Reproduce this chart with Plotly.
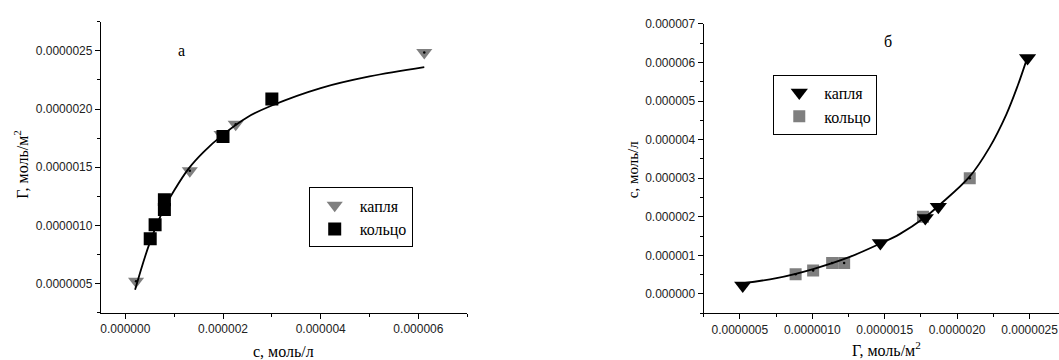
import plotly.graph_objects as go

# Measured adsorption data: concentration c (моль/л) and surface excess Γ (моль/м²)
drop_c = [0.22e-6, 1.32e-6, 1.97e-6, 2.26e-6, 6.12e-6]
drop_gamma = [0.52e-6, 1.47e-6, 1.78e-6, 1.87e-6, 2.486e-6]

ring_c = [0.51e-6, 0.61e-6, 0.80e-6, 0.80e-6, 2.00e-6, 3.00e-6]
ring_gamma = [0.885e-6, 1.006e-6, 1.137e-6, 1.22e-6, 1.764e-6, 2.087e-6]

# Fitted isotherm Γ(c) for panel а
fit_a_c = [0.20e-6, 0.50e-6, 0.80e-6, 1.0e-6, 1.3e-6, 1.6e-6, 2.0e-6, 2.5e-6,
           3.0e-6, 4.0e-6, 5.0e-6, 6.12e-6]
fit_a_gamma = [0.447e-6, 0.85e-6, 1.15e-6, 1.30e-6, 1.49e-6, 1.63e-6, 1.78e-6,
               1.93e-6, 2.03e-6, 2.18e-6, 2.28e-6, 2.36e-6]

# Fitted curve c(Γ) for panel б
fit_b_gamma = [0.523e-6, 0.753e-6, 1.006e-6, 1.259e-6, 1.466e-6, 1.603e-6,
               1.776e-6, 1.879e-6, 2.086e-6, 2.224e-6, 2.339e-6, 2.419e-6, 2.482e-6]
fit_b_c = [0.28e-6, 0.41e-6, 0.646e-6, 0.96e-6, 1.30e-6, 1.55e-6,
           1.98e-6, 2.31e-6, 3.04e-6, 3.80e-6, 4.65e-6, 5.41e-6, 6.10e-6]

GRAY = "#7f7f7f"
SERIF = "'Liberation Serif', 'Times New Roman', serif"
SANS = "'Liberation Sans', Arial, sans-serif"

fig = go.Figure()

# ---- panel а: Γ vs c ----
fig.add_trace(go.Scatter(x=drop_c, y=drop_gamma, mode="markers", name="капля",
                         marker=dict(symbol="triangle-down", size=14, color=GRAY, line=dict(width=0)),
                         xaxis="x", yaxis="y", legend="legend", legendrank=1))
fig.add_trace(go.Scatter(x=fit_a_c, y=fit_a_gamma, mode="lines", showlegend=False,
                         line=dict(color="black", width=1.8, shape="spline"),
                         xaxis="x", yaxis="y"))
fig.add_trace(go.Scatter(x=drop_c, y=drop_gamma, mode="markers", showlegend=False,
                         marker=dict(symbol="circle", size=2.5, color="black"),
                         xaxis="x", yaxis="y"))
fig.add_trace(go.Scatter(x=ring_c, y=ring_gamma, mode="markers", name="кольцо",
                         marker=dict(symbol="square", size=13, color="black", line=dict(width=0)),
                         xaxis="x", yaxis="y", legend="legend", legendrank=2))

# ---- panel б: c vs Γ ----
fig.add_trace(go.Scatter(x=ring_gamma, y=ring_c, mode="markers", name="кольцо",
                         marker=dict(symbol="square", size=12, color=GRAY, line=dict(width=0)),
                         xaxis="x2", yaxis="y2", legend="legend2", legendrank=2))
fig.add_trace(go.Scatter(x=fit_b_gamma, y=fit_b_c, mode="lines", showlegend=False,
                         line=dict(color="black", width=1.8, shape="spline"),
                         xaxis="x2", yaxis="y2"))
fig.add_trace(go.Scatter(x=ring_gamma, y=ring_c, mode="markers", showlegend=False,
                         marker=dict(symbol="circle", size=2.5, color="black"),
                         xaxis="x2", yaxis="y2"))
fig.add_trace(go.Scatter(x=drop_gamma, y=drop_c, mode="markers", name="капля",
                         marker=dict(symbol="triangle-down", size=15, color="black", line=dict(width=0)),
                         xaxis="x2", yaxis="y2", legend="legend2", legendrank=1))

axis_common = dict(showgrid=False, zeroline=False, showline=True, linecolor="black",
                   linewidth=1, ticks="outside", ticklen=5, tickcolor="black",
                   tickfont=dict(family=SANS, size=12, color="#222"))

# text positions in pixels of the 1059x360 page: (text, x, y, angle, size)
W, H = 1059, 360
labels = [
    ("а", 181, 44, 0, 16),
    ("б", 888, 35, 0, 16),
    ("с, моль/л", 283, 351, 0, 16),
    ("Г, моль/м<sup>2</sup>", 20, 160, -90, 16),
    ("с, моль/л", 632, 166, -90, 15),
    ("Г, моль/м<sup>2</sup>", 886, 349, 0, 16),
]
annotations = [
    dict(text=t, x=x / W, y=1 - y / H, xref="paper", yref="paper",
         xanchor="center", yanchor="middle", showarrow=False, textangle=a,
         font=dict(family=SERIF, size=s, color="black"))
    for t, x, y, a, s in labels
]

legend_style = dict(xanchor="left", yanchor="top", bordercolor="black", borderwidth=1,
                    bgcolor="white", font=dict(family=SERIF, size=16, color="black"),
                    itemsizing="trace", itemwidth=40, tracegroupgap=0)

fig.update_layout(
    width=W, height=H,
    margin=dict(l=0, r=0, t=0, b=0),
    paper_bgcolor="white", plot_bgcolor="white",
    xaxis=dict(domain=[0.0944, 0.4407], range=[-0.5e-6, 7e-6], tick0=0, dtick=2e-6,
               tickformat=".6f", anchor="y",
               minor=dict(dtick=1e-6, ticklen=3, ticks="outside", tickcolor="black"),
               **axis_common),
    yaxis=dict(domain=[0.134, 0.9583], range=[0.25e-6, 2.75e-6], tick0=0, dtick=0.5e-6,
               tickformat=".7f", anchor="x",
               minor=dict(dtick=0.25e-6, ticklen=3, ticks="outside", tickcolor="black"),
               **axis_common),
    xaxis2=dict(domain=[0.6641, 1.0], range=[0.25e-6, 2.703e-6], tick0=0, dtick=0.5e-6,
                tickformat=".7f", anchor="y2",
                minor=dict(dtick=0.25e-6, ticklen=3, ticks="outside", tickcolor="black"),
                **axis_common),
    yaxis2=dict(domain=[0.1325, 0.952], range=[-0.5e-6, 7e-6], tick0=0, dtick=1e-6,
                tickformat=".6f", anchor="x2",
                minor=dict(dtick=0.5e-6, ticklen=3, ticks="outside", tickcolor="black"),
                **axis_common),
    legend=dict(x=308 / W, y=1 - 184 / H, **legend_style),
    legend2=dict(x=773 / W, y=1 - 69 / H, **legend_style),
    annotations=annotations,
)

fig.write_html("out.html")
